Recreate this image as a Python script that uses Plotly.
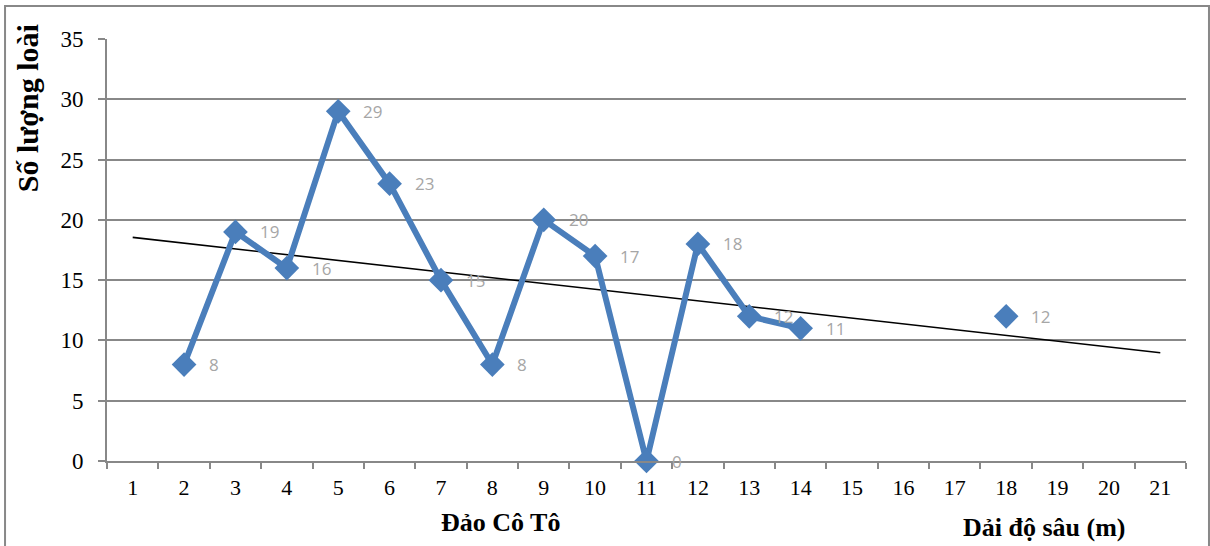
import numpy as np
import plotly.graph_objects as go

categories = list(range(1, 22))
values = [None, 8, 19, 16, 29, 23, 15, 8, 20, 17, 0, 18, 12, 11, None, None, None, 12, None, None, None]
y_ticks = [0, 5, 10, 15, 20, 25, 30, 35]

xs = [c for c, v in zip(categories, values) if v is not None]
ys = [v for v in values if v is not None]
slope, intercept = np.polyfit(xs, ys, 1)
trend_x = [categories[0], categories[-1]]
trend_y = [slope * x + intercept for x in trend_x]

fig = go.Figure()
fig.add_trace(go.Scatter(
    x=trend_x, y=trend_y, mode="lines", cliponaxis=False,
    line=dict(color="black", width=1.6), hoverinfo="skip", showlegend=False))
fig.add_trace(go.Scatter(
    x=categories, y=values, mode="lines+markers", connectgaps=False, cliponaxis=False,
    line=dict(color="#4a7ebb", width=6),
    marker=dict(symbol="diamond", size=19, color="#4a7ebb"),
    showlegend=False))

for x, y in zip(xs, ys):
    fig.add_annotation(x=x, y=y, text=str(y), showarrow=False, xanchor="left",
                       xshift=23, font=dict(family="Open Sans", size=17, color="#a6a6a6"))

serif = "Liberation Serif"
fig.add_annotation(text="<b>Số lượng loài</b>", xref="paper", yref="paper",
                   x=-0.0741, y=1.04, xanchor="center", yanchor="top", textangle=-90,
                   showarrow=False, font=dict(family=serif, size=30, color="black"))
fig.add_annotation(text="<b>Đảo Cô Tô</b>", xref="paper", yref="paper",
                   x=0.365, y=-0.146, xanchor="center", yanchor="middle", showarrow=False,
                   font=dict(family=serif, size=26, color="black"))
fig.add_annotation(text="<b>Dải độ sâu (m)</b>", xref="paper", yref="paper",
                   x=0.869, y=-0.158, xanchor="center", yanchor="middle", showarrow=False,
                   font=dict(family=serif, size=26, color="black"))

fig.add_shape(type="rect", xref="paper", yref="paper",
              x0=-0.0945, x1=1.0213, y0=-0.3, y1=1.078,
              line=dict(color="#888888", width=2), layer="below")

fig.update_layout(
    width=1210, height=546,
    margin=dict(l=107, r=24, t=39, b=85),
    plot_bgcolor="white", paper_bgcolor="white",
    xaxis=dict(range=[0.5, 21.5], tickvals=categories, ticktext=[str(c) for c in categories],
               showgrid=False, zeroline=False, showline=True, linecolor="#888888", linewidth=2,
               ticks="", ticklabelstandoff=6, tickfont=dict(family=serif, size=22, color="black"),
               minor=dict(ticks="outside", tick0=0.5, dtick=1, ticklen=6,
                          tickcolor="#888888", tickwidth=2, showgrid=False)),
    yaxis=dict(range=[0, 35], tickvals=y_ticks, showgrid=True, gridcolor="#888888", gridwidth=2,
               zeroline=False, showline=True, linecolor="#888888", linewidth=2,
               ticks="outside", ticklen=7, tickcolor="#888888", tickwidth=2,
               ticklabelstandoff=10,
               tickfont=dict(family=serif, size=23, color="black")),
)

fig.write_html("out.html")
